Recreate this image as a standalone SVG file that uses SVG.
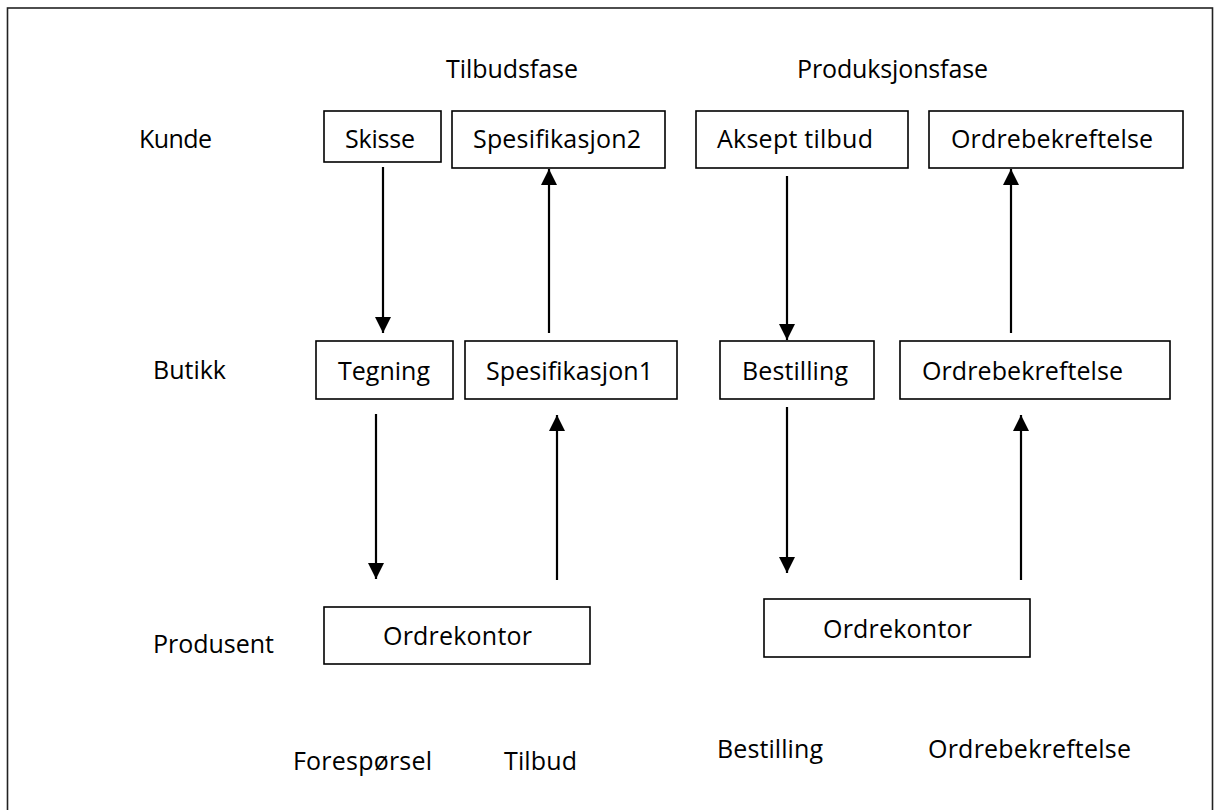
<svg xmlns="http://www.w3.org/2000/svg" width="1215" height="810" viewBox="0 0 1215 810">
  <style>
    text { font-family: "Open Sans", "Noto Sans", "Liberation Sans", sans-serif; font-size: 25px; fill: #000; }
    .box { fill: #fff; stroke: #000; stroke-width: 1.6; }
    .arrow { stroke: #000; stroke-width: 2.2; fill: none; marker-end: url(#ah); }
    .frame { fill: none; stroke: #222; stroke-width: 1.6; }
  </style>
  <defs>
    <marker id="ah" markerUnits="userSpaceOnUse" markerWidth="16" markerHeight="16" viewBox="0 0 16 16" refX="16" refY="8" orient="auto">
      <path d="M0,0 L16,8 L0,16 Z" fill="#000"/>
    </marker>
  </defs>
  <rect width="1215" height="810" fill="#fff"/>
  <rect class="frame" x="7.5" y="8" width="1205" height="830"/>

  <g id="labels">
    <text x="446" y="78" textLength="132" lengthAdjust="spacing">Tilbudsfase</text>
    <text x="797" y="78" textLength="191" lengthAdjust="spacing">Produksjonsfase</text>
    <text x="139" y="148" textLength="73" lengthAdjust="spacing">Kunde</text>
    <text x="153" y="379" textLength="73" lengthAdjust="spacing">Butikk</text>
    <text x="153" y="653" textLength="121" lengthAdjust="spacing">Produsent</text>
    <text x="293" y="770" textLength="139" lengthAdjust="spacing">Forespørsel</text>
    <text x="504" y="770" textLength="73" lengthAdjust="spacing">Tilbud</text>
    <text x="717" y="758" textLength="106" lengthAdjust="spacing">Bestilling</text>
    <text x="928" y="758" textLength="203" lengthAdjust="spacing">Ordrebekreftelse</text>
  </g>

  <g id="skisse">
    <rect class="box" x="324" y="111" width="117" height="51"/>
    <text x="345" y="148" textLength="70" lengthAdjust="spacing">Skisse</text>
  </g>
  <g id="spesifikasjon2">
    <rect class="box" x="452" y="111" width="213" height="57"/>
    <text x="473" y="148" textLength="168" lengthAdjust="spacing">Spesifikasjon2</text>
  </g>
  <g id="aksept-tilbud">
    <rect class="box" x="696" y="111" width="212" height="57"/>
    <text x="717" y="148" textLength="156" lengthAdjust="spacing">Aksept tilbud</text>
  </g>
  <g id="ordrebekreftelse-kunde">
    <rect class="box" x="929" y="111" width="254" height="57"/>
    <text x="951" y="148" textLength="202" lengthAdjust="spacing">Ordrebekreftelse</text>
  </g>

  <g id="tegning">
    <rect class="box" x="316" y="341" width="137" height="58"/>
    <text x="338" y="380" textLength="92" lengthAdjust="spacing">Tegning</text>
  </g>
  <g id="spesifikasjon1">
    <rect class="box" x="465" y="341" width="212" height="58"/>
    <text x="486" y="380" textLength="167" lengthAdjust="spacing">Spesifikasjon1</text>
  </g>
  <g id="bestilling">
    <rect class="box" x="720" y="341" width="154" height="58"/>
    <text x="742" y="380" textLength="106" lengthAdjust="spacing">Bestilling</text>
  </g>
  <g id="ordrebekreftelse-butikk">
    <rect class="box" x="900" y="341" width="270" height="58"/>
    <text x="922" y="380" textLength="201" lengthAdjust="spacing">Ordrebekreftelse</text>
  </g>

  <g id="ordrekontor-tilbud">
    <rect class="box" x="324" y="607" width="266" height="57"/>
    <text x="383" y="645" textLength="149" lengthAdjust="spacing">Ordrekontor</text>
  </g>
  <g id="ordrekontor-produksjon">
    <rect class="box" x="764" y="599" width="266" height="58"/>
    <text x="823" y="638" textLength="149" lengthAdjust="spacing">Ordrekontor</text>
  </g>

  <g id="connectors">
    <line class="arrow" x1="383" y1="167" x2="383" y2="333"/>
    <line class="arrow" x1="549" y1="333" x2="549" y2="169"/>
    <line class="arrow" x1="787" y1="176" x2="787" y2="340"/>
    <line class="arrow" x1="1011" y1="333" x2="1011" y2="169"/>
    <line class="arrow" x1="376" y1="414" x2="376" y2="579"/>
    <line class="arrow" x1="557" y1="580" x2="557" y2="415"/>
    <line class="arrow" x1="787" y1="407" x2="787" y2="573"/>
    <line class="arrow" x1="1021" y1="580" x2="1021" y2="415"/>
  </g>
</svg>
